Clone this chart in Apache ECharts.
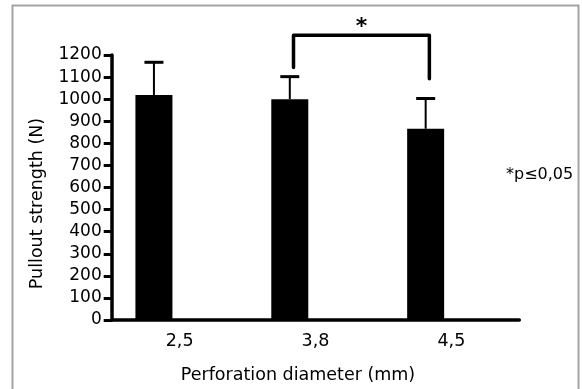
<!DOCTYPE html>
<html><head><meta charset="utf-8">
<script src="https://cdn.jsdelivr.net/npm/echarts@6/dist/echarts.min.js"></script>
<style>html,body{margin:0;padding:0;background:#fff}#c{width:582px;height:389px}</style>
</head><body><div id="c"></div>
<script>
// ---- data ----
const categories = ['2,5', '3,8', '4,5'];
const meanValues = [1019, 1000, 866];
const sdValues = [148, 102, 137];
const yMin = 0, yMax = 1200, yStep = 100;
const sigPair = [1, 2];
const sigBracketLevel = 1289;
const sigLegEnds = [1143, 1093];
const sigStarLevel = 1325;
const sigMark = '*';
const noteText = '*p\u22640,05';
const xTitle = 'Perforation diameter (mm)';
const yTitle = 'Pullout strength (N)';

// ---- style ----
const FONT = 'DejaVu Sans';
const BAR_W = 37;
const BAR_SHIFT = -25.7;   // px, offset of bar centre from category centre
const BRACKET_SHIFT = -22; // px

const chart = echarts.init(document.getElementById('c'), null, {renderer: 'canvas'});
const errData = categories.map((c, i) => [i, meanValues[i], sdValues[i]]);

chart.setOption({
  animation: false,
  backgroundColor: '#fff',
  grid: {left: 111.7, right: 62.7, top: 55, bottom: 64.5, containLabel: false},
  xAxis: {
    type: 'category', data: categories, boundaryGap: true,
    axisLine: {lineStyle: {color: '#000', width: 3.5}},
    axisTick: {alignWithLabel: true, length: 8, lineStyle: {color: '#000', width: 3}},
    axisLabel: {color: '#000', fontFamily: FONT, fontSize: 17.5, margin: 12.5},
    name: xTitle, nameLocation: 'middle', nameGap: 46,
    nameTextStyle: {color: '#000', fontFamily: FONT, fontSize: 17.5, padding: [0, 35, 0, 0]}
  },
  yAxis: {
    type: 'value', min: yMin, max: yMax, interval: yStep,
    axisLine: {show: true, lineStyle: {color: '#000', width: 3.5}},
    axisTick: {show: true, length: 8, lineStyle: {color: '#000', width: 3}},
    axisLabel: {color: '#000', fontFamily: FONT, fontSize: 17, margin: 10, formatter: v => String(v)},
    splitLine: {show: false},
    name: yTitle, nameLocation: 'middle', nameGap: 65,
    nameTextStyle: {color: '#000', fontFamily: FONT, fontSize: 17.5, padding: [0, 32, 0, 0]}
  },
  series: [
    {type: 'bar', data: meanValues, barWidth: BAR_W, barGap: '39%', itemStyle: {color: '#000'}},
    {type: 'bar', data: categories.map(() => null), barWidth: BAR_W},
    {
      type: 'custom', data: errData, clip: false, z: 5,
      renderItem: function (params, api) {
        const i = api.value(0);
        const m = api.value(1), s = api.value(2);
        const x = api.coord([i, 0])[0] + BAR_SHIFT;
        const yM = api.coord([i, m])[1];
        const yT = api.coord([i, m + s])[1];
        return {type: 'group', children: [
          {type: 'line', shape: {x1: x, y1: yM, x2: x, y2: yT}, style: {stroke: '#000', lineWidth: 2}},
          {type: 'line', shape: {x1: x - 9.5, y1: yT, x2: x + 9.5, y2: yT}, style: {stroke: '#000', lineWidth: 3}}
        ]};
      }
    },
    {
      type: 'custom', data: [[sigPair[0], sigPair[1], sigBracketLevel, sigLegEnds[0], sigLegEnds[1], sigStarLevel]],
      clip: false, z: 5,
      renderItem: function (params, api) {
        const xL = api.coord([api.value(0), 0])[0] + BRACKET_SHIFT;
        const xR = api.coord([api.value(1), 0])[0] + BRACKET_SHIFT;
        const yTop = api.coord([api.value(0), api.value(2)])[1];
        const yL = api.coord([api.value(0), api.value(3)])[1];
        const yR = api.coord([api.value(1), api.value(4)])[1];
        const yS = api.coord([api.value(0), api.value(5)])[1];
        return {type: 'group', children: [
          {type: 'polyline', shape: {points: [[xL, yL], [xL, yTop], [xR, yTop], [xR, yR]]},
           style: {stroke: '#000', lineWidth: 3.5, fill: null, lineCap: 'round', lineJoin: 'round'}},
          {type: 'text', x: (xL + xR) / 2, y: yS,
           style: {text: sigMark, fill: '#000', font: 'bold 22px "DejaVu Sans"', align: 'center', verticalAlign: 'middle'}}
        ]};
      }
    }
  ],
  graphic: [
    {type: 'rect', shape: {x: 12.5, y: 5.5, width: 566, height: 420},
     style: {fill: null, stroke: '#a3a3a3', lineWidth: 2}, silent: true, z: -1},
    {type: 'text', left: 506, top: 167,
     style: {text: noteText, fill: '#000', font: '16px "DejaVu Sans"'}}
  ]
});
</script></body></html>
